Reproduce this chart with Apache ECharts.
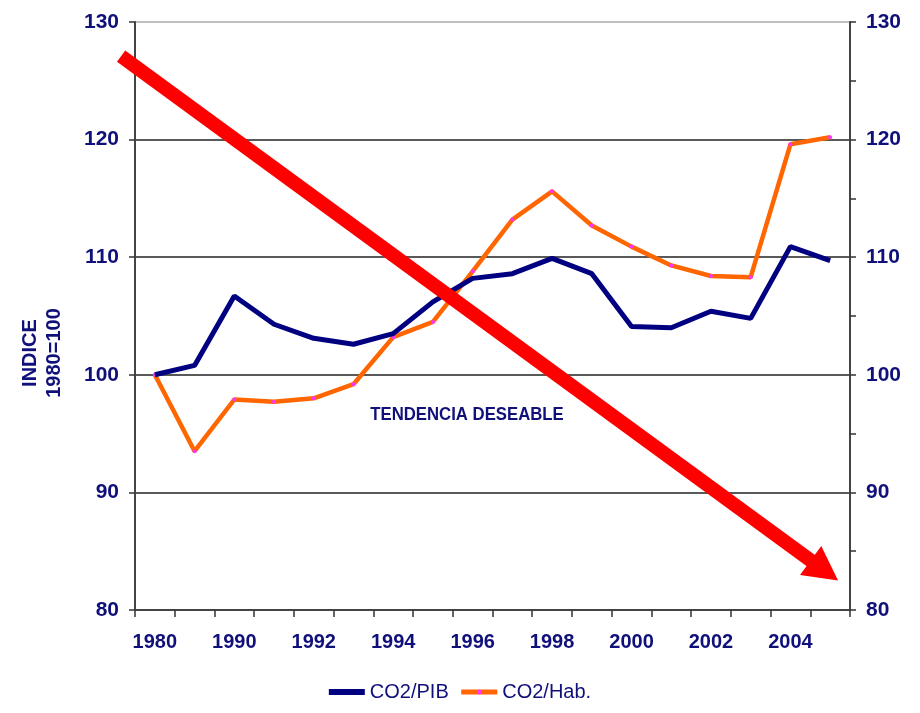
<!DOCTYPE html>
<html>
<head>
<meta charset="utf-8">
<script src="https://cdn.jsdelivr.net/npm/echarts@6/dist/echarts.min.js"></script>
<style>
  html, body { margin: 0; padding: 0; background: #fff; }
  #main { width: 920px; height: 713px; }
</style>
</head>
<body>
<div id="main"></div>
<script>
// years on the x axis (1985 sits between 1980 and 1990)
const years = ['1980', '1985', '1990', '1991', '1992', '1993', '1994', '1995', '1996',
  '1997', '1998', '1999', '2000', '2001', '2002', '2003', '2004', '2005'];
const co2Pib = [100, 100.8, 106.7, 104.3, 103.1, 102.6, 103.5, 106.2, 108.2,
  108.6, 109.9, 108.6, 104.1, 104.0, 105.4, 104.8, 110.9, 109.7];
const co2Hab = [100, 93.5, 97.9, 97.7, 98.0, 99.2, 103.2, 104.5, 108.8,
  113.2, 115.6, 112.7, 110.9, 109.3, 108.4, 108.3, 119.6, 120.2];
const yTicks = [80, 90, 100, 110, 120, 130];
// arrow "tendencia deseable": [category index, index value]
const arrowFrom = [-0.85, 127.1];
const arrowTo = [17.2, 82.5];

const navy = '#10107a';
const font = 'Liberation Sans, Arial, sans-serif';

const chart = echarts.init(document.getElementById('main'));

const yAxisBase = {
  type: 'value',
  min: yTicks[0],
  max: yTicks[yTicks.length - 1],
  interval: 10,
  axisLine: { show: true, lineStyle: { color: '#444', width: 2 } },
  axisTick: { show: true, length: 6, lineStyle: { color: '#333', width: 1.5 } },
  axisLabel: { color: navy, fontSize: 21, fontWeight: 'bold', fontFamily: font, margin: 16 }
};

chart.setOption({
  backgroundColor: '#fff',
  animation: false,
  grid: { left: 135, right: 70, top: 22, bottom: 103 },
  legend: {
    bottom: 6,
    left: 'center',
    itemWidth: 36,
    itemHeight: 6,
    itemGap: 10,
    lineStyle: { width: 5 },
    textStyle: { color: navy, fontSize: 20, fontFamily: font },
    data: [{ name: 'CO2/PIB', icon: 'rect' }, { name: 'CO2/Hab.' }]
  },
  xAxis: {
    type: 'category',
    data: years,
    boundaryGap: true,
    axisLine: { lineStyle: { color: '#444', width: 2 } },
    axisTick: { show: true, interval: 0, length: 7, lineStyle: { color: '#333', width: 1.5 } },
    axisLabel: { interval: 1, color: navy, fontSize: 20, fontWeight: 'bold', fontFamily: font, margin: 22 }
  },
  yAxis: [
    Object.assign({}, yAxisBase, {
      position: 'left',
      splitLine: {
        show: true,
        lineStyle: { color: ['#222', '#222', '#222', '#222', '#222', '#aaa'], width: 1.5 }
      }
    }),
    Object.assign({}, yAxisBase, {
      position: 'right',
      splitLine: { show: false },
      minorTick: { show: true, splitNumber: 2, length: 6, lineStyle: { color: '#333', width: 1.5 } }
    })
  ],
  series: [
    {
      name: 'CO2/PIB',
      type: 'line',
      data: co2Pib,
      symbol: 'none',
      itemStyle: { color: '#000080' },
      lineStyle: { color: '#000080', width: 5 },
      z: 3
    },
    {
      name: 'CO2/Hab.',
      type: 'line',
      data: co2Hab,
      symbol: 'circle',
      symbolSize: 4,
      showAllSymbol: true,
      itemStyle: { color: '#ff33ff', borderWidth: 0 },
      lineStyle: { color: '#ff6600', width: 4.5 },
      z: 2
    }
  ]
});

// place the arrow through the chart's own axes
function toPx(pt) {
  const a = chart.convertToPixel({ xAxisIndex: 0 }, years[0]);
  const b = chart.convertToPixel({ xAxisIndex: 0 }, years[1]);
  const x = a + pt[0] * (b - a);
  const y = chart.convertToPixel({ yAxisIndex: 0 }, pt[1]);
  return [x, y];
}
const p0 = toPx(arrowFrom);
const p1 = toPx(arrowTo);
const dx = p1[0] - p0[0], dy = p1[1] - p0[1];
const len = Math.sqrt(dx * dx + dy * dy);
const ux = dx / len, uy = dy / len;
const headLen = 34, headHalf = 18;
const base = [p1[0] - ux * headLen, p1[1] - uy * headLen];

chart.setOption({
  graphic: [
    {
      type: 'line',
      z: 10,
      shape: { x1: p0[0], y1: p0[1], x2: base[0] + ux * 2, y2: base[1] + uy * 2 },
      style: { stroke: '#ff0000', lineWidth: 14 }
    },
    {
      type: 'polygon',
      z: 10,
      shape: {
        points: [
          p1,
          [base[0] - uy * headHalf, base[1] + ux * headHalf],
          [base[0] + uy * headHalf, base[1] - ux * headHalf]
        ]
      },
      style: { fill: '#ff0000' }
    },
    {
      type: 'text',
      x: 467,
      y: 415,
      scaleX: 0.93,
      z: 11,
      style: {
        text: 'TENDENCIA DESEABLE',
        fill: navy,
        font: 'bold 18px ' + font,
        align: 'center',
        verticalAlign: 'middle'
      }
    },
    {
      type: 'text',
      x: 42,
      y: 353,
      rotation: Math.PI / 2,
      z: 11,
      style: {
        text: 'INDICE\n1980=100',
        fill: navy,
        font: 'bold 20px ' + font,
        align: 'center',
        verticalAlign: 'middle',
        lineHeight: 24
      }
    }
  ]
});
</script>
</body>
</html>
